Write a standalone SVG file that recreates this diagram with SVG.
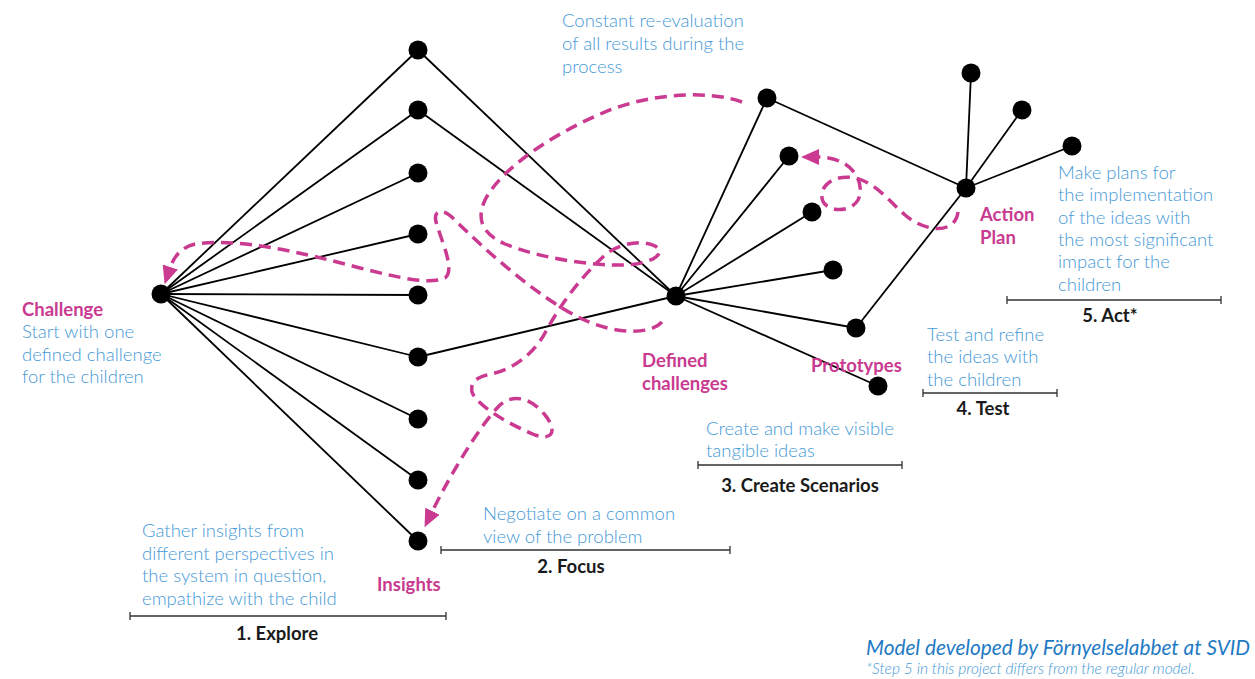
<svg xmlns="http://www.w3.org/2000/svg" width="1255" height="679" viewBox="0 0 1255 679">
<defs>
<style>
.edge{stroke:#000;stroke-width:1.8;fill:none}
.dot{fill:#000}
.dash{stroke:#c93a90;stroke-width:3.5;fill:none;stroke-dasharray:12 7}
.desc{font-family:Lato,"Open Sans",sans-serif;font-size:18.5px;font-weight:300;fill:#4699d6}
.lbl{font-family:Lato,"Open Sans",sans-serif;font-size:18.5px;font-weight:bold;fill:#c93a90}
.step{font-family:Lato,"Open Sans",sans-serif;font-size:18.5px;font-weight:bold;fill:#1a1a1a;text-anchor:middle}
.scale{stroke:#333;stroke-width:1.3;fill:none}
</style>
<marker id="arr" markerUnits="userSpaceOnUse" markerWidth="18" markerHeight="16" refX="1" refY="8" orient="auto">
<path d="M0,0 L18,8 L0,16 z" fill="#c93a90"/>
</marker>
</defs>
<rect width="1255" height="679" fill="#fff"/>
<g id="connectors">
<line class="edge" x1="161" y1="294" x2="418" y2="50"/>
<line class="edge" x1="161" y1="294" x2="418" y2="110"/>
<line class="edge" x1="161" y1="294" x2="418" y2="173"/>
<line class="edge" x1="161" y1="294" x2="418" y2="234"/>
<line class="edge" x1="161" y1="294" x2="418" y2="295"/>
<line class="edge" x1="161" y1="294" x2="418" y2="357"/>
<line class="edge" x1="161" y1="294" x2="418" y2="419"/>
<line class="edge" x1="161" y1="294" x2="418" y2="480"/>
<line class="edge" x1="161" y1="294" x2="418" y2="541"/>
<line class="edge" x1="418" y1="50" x2="676" y2="296"/>
<line class="edge" x1="418" y1="110" x2="676" y2="296"/>
<line class="edge" x1="418" y1="357" x2="676" y2="296"/>
<line class="edge" x1="676" y1="296" x2="767" y2="98"/>
<line class="edge" x1="676" y1="296" x2="789" y2="156"/>
<line class="edge" x1="676" y1="296" x2="812" y2="212"/>
<line class="edge" x1="676" y1="296" x2="833" y2="270"/>
<line class="edge" x1="676" y1="296" x2="856" y2="328"/>
<line class="edge" x1="676" y1="296" x2="878" y2="386"/>
<line class="edge" x1="767" y1="98" x2="966" y2="188"/>
<line class="edge" x1="856" y1="328" x2="966" y2="188"/>
<line class="edge" x1="966" y1="188" x2="971" y2="73"/>
<line class="edge" x1="966" y1="188" x2="1022" y2="110"/>
<line class="edge" x1="966" y1="188" x2="1072" y2="146"/>
<path class="dash" marker-end="url(#arr)" d="M 742 102 C 710 90, 650 93, 605 112 C 550 135, 500 170, 485 200 C 475 222, 485 235, 505 244 C 540 258, 590 266, 625 265 C 650 264, 668 254, 655 246 C 645 240, 620 242, 605 255 C 580 278, 560 305, 545 333 C 535 352, 515 368, 495 373 C 478 377, 470 380, 472 392 C 476 405, 510 425, 535 435 C 555 442, 556 428, 545 415 C 533 400, 515 392, 500 405 C 480 425, 450 475, 432 512"/>
<path class="dash" marker-end="url(#arr)" d="M 662 322 C 650 335, 615 335, 580 318 C 540 298, 490 255, 455 220 C 440 205, 432 212, 437 225 C 443 245, 455 270, 445 278 C 430 285, 400 278, 360 268 C 300 252, 240 238, 195 244 C 182 247, 174 256, 170 268"/>
<path class="dash" marker-end="url(#arr)" d="M 958 212 C 955 235, 925 232, 905 215 C 890 202, 875 182, 855 178 C 835 174, 820 185, 822 198 C 824 212, 850 214, 858 200 C 864 188, 858 172, 845 164 C 838 160, 830 157, 818 157"/>
</g>
<g id="node-challenge"><circle class="dot" cx="161" cy="294" r="9.5"/>
<text class="lbl" x="22" y="316">Challenge</text>
<text class="desc" x="22" y="338">Start with one</text>
<text class="desc" x="22" y="361">defined challenge</text>
<text class="desc" x="22" y="383">for the children</text>
</g>
<g id="node-l1"><circle class="dot" cx="418" cy="50" r="9.5"/></g>
<g id="node-l2"><circle class="dot" cx="418" cy="110" r="9.5"/></g>
<g id="node-l3"><circle class="dot" cx="418" cy="173" r="9.5"/></g>
<g id="node-l4"><circle class="dot" cx="418" cy="234" r="9.5"/></g>
<g id="node-l5"><circle class="dot" cx="418" cy="295" r="9.5"/></g>
<g id="node-l6"><circle class="dot" cx="418" cy="357" r="9.5"/></g>
<g id="node-l7"><circle class="dot" cx="418" cy="419" r="9.5"/></g>
<g id="node-l8"><circle class="dot" cx="418" cy="480" r="9.5"/></g>
<g id="node-insights"><circle class="dot" cx="418" cy="541" r="9.5"/>
<text class="lbl" x="377" y="591">Insights</text>
</g>
<g id="node-defined"><circle class="dot" cx="676" cy="296" r="9.5"/>
<text class="lbl" x="642" y="367">Defined</text>
<text class="lbl" x="642" y="390">challenges</text>
</g>
<g id="node-r1"><circle class="dot" cx="767" cy="98" r="9.5"/></g>
<g id="node-r2"><circle class="dot" cx="789" cy="156" r="9.5"/></g>
<g id="node-r3"><circle class="dot" cx="812" cy="212" r="9.5"/></g>
<g id="node-r4"><circle class="dot" cx="833" cy="270" r="9.5"/></g>
<g id="node-r5"><circle class="dot" cx="856" cy="328" r="9.5"/></g>
<g id="node-prototypes"><circle class="dot" cx="878" cy="386" r="9.5"/>
<text class="lbl" x="811" y="372">Prototypes</text>
</g>
<g id="node-action"><circle class="dot" cx="966" cy="188" r="9.5"/>
<text class="lbl" x="980" y="221">Action</text>
<text class="lbl" x="980" y="244">Plan</text>
</g>
<g id="node-a1"><circle class="dot" cx="971" cy="73" r="9.5"/></g>
<g id="node-a2"><circle class="dot" cx="1022" cy="110" r="9.5"/></g>
<g id="node-a3"><circle class="dot" cx="1072" cy="146" r="9.5"/></g>
<g id="note-constant">
<text class="desc" x="562" y="27">Constant re-evaluation</text>
<text class="desc" x="562" y="50">of all results during the</text>
<text class="desc" x="562" y="73">process</text>
</g>
<g id="step-1">
<text class="desc" x="142" y="537">Gather insights from</text>
<text class="desc" x="142" y="560">different perspectives in</text>
<text class="desc" x="142" y="582">the system in question,</text>
<text class="desc" x="142" y="605">empathize with the child</text>
<path class="scale" d="M130 616 H446 M130 612 V620 M446 612 V620"/>
<text class="step" x="277" y="640">1. Explore</text>
</g>
<g id="step-2">
<text class="desc" x="483" y="520">Negotiate on a common</text>
<text class="desc" x="483" y="543">view of the problem</text>
<path class="scale" d="M441 550 H730 M441 546 V554 M730 546 V554"/>
<text class="step" x="571" y="573">2. Focus</text>
</g>
<g id="step-3">
<text class="desc" x="706" y="435">Create and make visible</text>
<text class="desc" x="706" y="457">tangible ideas</text>
<path class="scale" d="M698 465 H902 M698 461 V469 M902 461 V469"/>
<text class="step" x="800" y="492">3. Create Scenarios</text>
</g>
<g id="step-4">
<text class="desc" x="927" y="341">Test and refine</text>
<text class="desc" x="927" y="363">the ideas with</text>
<text class="desc" x="927" y="386">the children</text>
<path class="scale" d="M923 393 H1057 M923 389 V397 M1057 389 V397"/>
<text class="step" x="983" y="415">4. Test</text>
</g>
<g id="step-5">
<text class="desc" x="1058" y="179">Make plans for</text>
<text class="desc" x="1058" y="201">the implementation</text>
<text class="desc" x="1058" y="224">of the ideas with</text>
<text class="desc" x="1058" y="246">the most significant</text>
<text class="desc" x="1058" y="268">impact for the</text>
<text class="desc" x="1058" y="291">children</text>
<path class="scale" d="M1007 300 H1221 M1007 296 V304 M1221 296 V304"/>
<text class="step" x="1110" y="322">5. Act*</text>
</g>
<g id="credits">
<text x="866" y="655" font-family="Lato,'Open Sans',sans-serif" font-size="20.8" font-style="italic" fill="#1f7ac4">Model developed by Förnyelselabbet at SVID</text>
<text x="866" y="674" font-family="Lato,'Open Sans',sans-serif" font-size="15.5" font-style="italic" font-weight="300" fill="#4699d6">*Step 5 in this project differs from the regular model.</text>
</g>
</svg>
